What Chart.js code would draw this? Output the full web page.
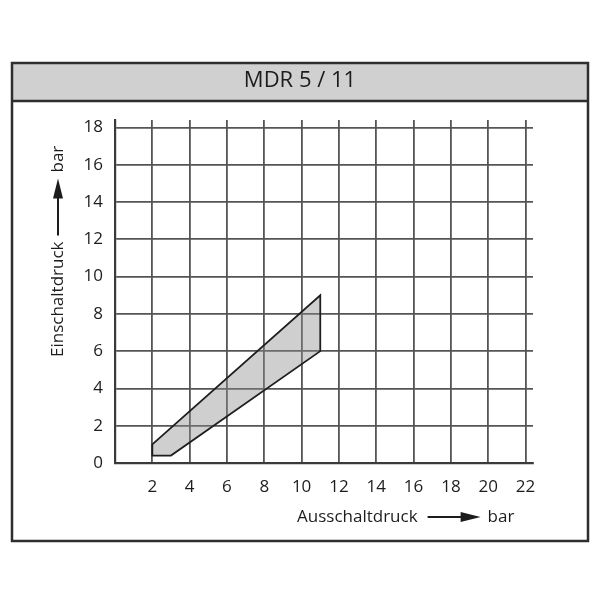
<!DOCTYPE html>
<html>
<head>
<meta charset="utf-8">
<script src="https://cdn.jsdelivr.net/npm/chart.js@4.4.1/dist/chart.umd.min.js"></script>
<style>
  html, body { margin: 0; padding: 0; background: #ffffff; }
  #wrap { width: 600px; height: 600px; position: relative; }
</style>
</head>
<body>
<div id="wrap"><canvas id="c" width="600" height="600"></canvas></div>
<script>
// ---- data ----
const chartTitle = 'MDR 5 / 11';
const xAxisLabel = 'Ausschaltdruck';
const yAxisLabel = 'Einschaltdruck';
const unitLabel = 'bar';
// polygon outline of the switching range (Ausschaltdruck, Einschaltdruck)
const rangeX = [2, 11, 11, 3, 2, 2];
const rangeY = [1, 9, 6, 0.4, 0.4, 1];
const xTickValues = [2, 4, 6, 8, 10, 12, 14, 16, 18, 20, 22];
const yTickValues = [0, 2, 4, 6, 8, 10, 12, 14, 16, 18];

const points = rangeX.map((x, i) => ({ x: x, y: rangeY[i] }));
const FONT = '"Open Sans", "DejaVu Sans", sans-serif';
const TEXT = '#1c1c1c';

const framePlugin = {
  id: 'frame',
  beforeDraw(chart) {
    const ctx = chart.ctx;
    ctx.save();
    // title bar
    ctx.fillStyle = '#d0d0d0';
    ctx.fillRect(12, 63, 576, 38);
    ctx.strokeStyle = '#2e2e2e';
    ctx.lineWidth = 2.5;
    ctx.beginPath();
    ctx.moveTo(12, 101); ctx.lineTo(588, 101);
    ctx.stroke();
    ctx.strokeRect(12, 63, 576, 478);
    ctx.restore();
  },
  afterDraw(chart) {
    const ctx = chart.ctx;
    ctx.save();
    ctx.fillStyle = TEXT;
    ctx.strokeStyle = TEXT;
    ctx.font = '500 17px ' + FONT;
    ctx.textBaseline = 'middle';
    ctx.textAlign = 'left';
    function arrow(x0, x1, y) {
      ctx.lineWidth = 2;
      ctx.beginPath();
      ctx.moveTo(x0, y); ctx.lineTo(x1 - 16, y);
      ctx.stroke();
      ctx.beginPath();
      ctx.moveTo(x1, y);
      ctx.lineTo(x1 - 20, y - 5);
      ctx.lineTo(x1 - 20, y + 5);
      ctx.closePath();
      ctx.fill();
    }
    // x-axis title
    const xs = 297, yx = 517;
    ctx.fillText(xAxisLabel, xs, yx);
    const w1 = ctx.measureText(xAxisLabel).width;
    const a0 = xs + w1 + 10, a1 = a0 + 53;
    arrow(a0, a1, yx);
    ctx.fillText(unitLabel, a1 + 7, yx);
    // y-axis title (rotated)
    ctx.translate(58, 0);
    ctx.rotate(-Math.PI / 2);
    const us = -357;
    ctx.fillText(yAxisLabel, us, 0);
    const w2 = ctx.measureText(yAxisLabel).width;
    const b0 = us + w2 + 6, b1 = b0 + 57;
    arrow(b0, b1, 0);
    ctx.fillText(unitLabel, b1 + 6, 0);
    ctx.restore();
  }
};

new Chart(document.getElementById('c'), {
  type: 'scatter',
  data: {
    datasets: [{
      data: points,
      showLine: true,
      tension: 0,
      fill: 'shape',
      backgroundColor: 'rgba(140,140,140,0.42)',
      borderColor: '#1e1e1e',
      borderWidth: 1.8,
      pointRadius: 0,
      pointHoverRadius: 0
    }]
  },
  options: {
    responsive: false,
    animation: false,
    events: [],
    layout: { padding: { left: 67, right: 67, top: 0, bottom: 97 } },
    plugins: {
      legend: { display: false },
      tooltip: { enabled: false },
      title: {
        display: true,
        text: chartTitle,
        color: TEXT,
        font: { family: FONT, size: 22, weight: '500', lineHeight: 1.2 },
        padding: { top: 68, bottom: 25.6 }
      }
    },
    scales: {
      x: {
        type: 'linear',
        min: 0,
        max: 22.4,
        afterBuildTicks(scale) { scale.ticks = xTickValues.map(v => ({ value: v })); },
        afterFit(scale) { scale.height = 40; },
        ticks: {
          color: TEXT,
          font: { family: FONT, size: 17, weight: '500' },
          padding: 14,
          maxRotation: 0,
          autoSkip: false
        },
        grid: { color: '#555555', lineWidth: 1.8, drawTicks: false, tickLength: 0 },
        border: { display: true, color: '#3a3a3a', width: 2.2 }
      },
      y: {
        type: 'linear',
        min: 0,
        max: 18.4,
        afterBuildTicks(scale) { scale.ticks = yTickValues.map(v => ({ value: v })); },
        afterFit(scale) { scale.width = 48; },
        ticks: {
          color: TEXT,
          font: { family: FONT, size: 17, weight: '500' },
          padding: 12,
          autoSkip: false
        },
        grid: { color: '#555555', lineWidth: 1.8, drawTicks: false, tickLength: 0 },
        border: { display: true, color: '#3a3a3a', width: 2.2 }
      }
    }
  },
  plugins: [framePlugin]
});
</script>
</body>
</html>
